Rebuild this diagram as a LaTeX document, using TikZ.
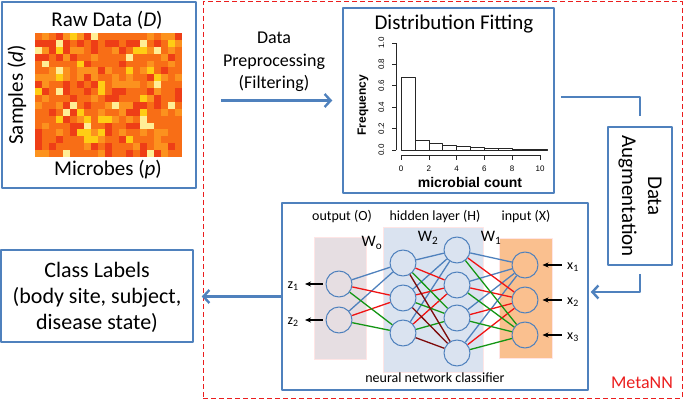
\documentclass[tikz,border=0pt]{standalone}
\usepackage{fontspec}
\setmainfont{Carlito}
\newfontfamily\histfont{Liberation Sans}
\usetikzlibrary{arrows.meta}
\definecolor{boxblue}{RGB}{79,129,189}
\definecolor{nnred}{RGB}{240,20,20}
\definecolor{nngreen}{RGB}{20,150,20}
\definecolor{nnmaroon}{RGB}{125,10,10}
\definecolor{outfill}{RGB}{230,222,226}
\definecolor{hidfill}{RGB}{218,227,240}
\definecolor{infill}{RGB}{250,192,143}
\definecolor{heatA}{RGB}{238,62,22}
\definecolor{heatB}{RGB}{248,110,22}
\definecolor{heatC}{RGB}{252,146,30}
\definecolor{heatD}{RGB}{255,205,20}
\definecolor{heatE}{RGB}{255,238,150}
\definecolor{metared}{RGB}{235,30,30}

\begin{document}
\begin{tikzpicture}[x=1pt, y=-1pt, line join=round]
    \tikzstyle{box_style} = [draw=boxblue, line width=1.5pt, inner sep=0pt]
    \tikzstyle{meta_style} = [draw=metared, line width=1pt, dash pattern=on 5pt off 3pt, inner sep=0pt]
    \tikzstyle{title_style} = [font=\fontsize{21}{26}\selectfont, align=center]
    \tikzstyle{cls_style} = [font=\fontsize{22}{26}\selectfont, align=center]
    \tikzstyle{prep_style} = [font=\fontsize{18}{22.5}\selectfont, align=center]
    \tikzstyle{nn_label} = [font=\fontsize{14}{16}\selectfont]
    \tikzstyle{w_label} = [font=\fontsize{16}{18}\selectfont]
    \tikzstyle{panel_style} = [inner sep=0pt, draw=white!90!red, line width=0.5pt]
    \tikzstyle{neuron_style} = [circle, draw=boxblue, line width=1pt, minimum size=26pt, inner sep=0pt]
    \tikzstyle{edge_style} = [line width=1.3pt]
    \tikzstyle{flow_style} = [draw=boxblue, line width=2.4pt, -{Straight Barb[length=6pt,width=13pt]}]
    \tikzstyle{link_style} = [draw=boxblue, line width=2.4pt]
    \tikzstyle{io_style} = [line width=1.2pt, -{Stealth[length=6pt,width=5pt]}]
    \tikzstyle{bar_style} = [draw=black!85, line width=0.6pt]
    \tikzstyle{tick_style} = [font=\histfont\fontsize{8}{9}\selectfont, inner sep=1pt]

    \useasboundingbox (0,0) rectangle (685,401);

    % main boxes
    \node[meta_style, minimum width=479pt, minimum height=396pt] (meta) at (442.5,200) {};
    \node[box_style, minimum width=194pt, minimum height=186pt] (raw) at (99,95) {};
    \node[box_style, minimum width=211pt, minimum height=185pt] (fit) at (448.5,100.5) {};
    \node[box_style, minimum width=64pt, minimum height=138pt] (aug) at (640,196) {};
    \node[box_style, minimum width=306pt, minimum height=187pt] (nn) at (435,296.5) {};
    \node[box_style, minimum width=192pt, minimum height=92pt] (cls) at (97,296) {};

    % raw data
    \node[title_style] (rawtitle) at (107,20) {Raw Data (\textit{D})};
    \node[title_style, rotate=90] (samples) at (17,95) {Samples (\textit{d})};
    \node[title_style] (microbes) at (108,170) {Microbes (\textit{p})};
    \pgfmathsetseed{11}
    \foreach \i in {0,...,20}{
      \foreach \j in {0,...,17}{
        \pgfmathrandominteger{\rv}{0}{13}
        \ifcase\rv \def\hc{heatA}\or\def\hc{heatA}\or\def\hc{heatA}\or\def\hc{heatB}\or
          \def\hc{heatB}\or\def\hc{heatB}\or\def\hc{heatB}\or\def\hc{heatB}\or\def\hc{heatB}\or
          \def\hc{heatC}\or\def\hc{heatC}\or\def\hc{heatC}\or\def\hc{heatD}\else\def\hc{heatE}\fi
        \fill[\hc] ({35+7*\i},{33+6.89*\j}) rectangle ++(7.2,7.1);
      }
    }

    \node[prep_style] (prep) at (274,62) {Data\\Preprocessing\\(Filtering)};

    % distribution fitting
    \node[title_style] (fittitle) at (454,24) {Distribution Fitting};
    \begin{scope}[shift={(401,150)}, x=13.9pt, y=107pt]
      \foreach \v/\f in {0/0.68, 1/0.093, 2/0.063, 3/0.042, 4/0.032, 5/0.023, 6/0.017, 7/0.012, 8/0.008, 9/0.005}
        \draw[bar_style] (\v,0) rectangle ({\v+1},\f);
      \draw[bar_style] (10,0) rectangle (10.5,0.003);
      \draw[bar_style] (-0.36,0) -- (-0.36,1);
      \foreach \t [count=\k] in {0.0,0.2,0.4,0.6,0.8,1.0}{
        \draw[bar_style] (-0.36,\t) -- ++(-4pt,0);
        \node[tick_style, rotate=90] (ytick\k) at (-1.42,\t) {\t};
      }
      \draw[bar_style] (0,-0.047) -- (10,-0.047);
      \foreach \t [count=\k] in {0,2,4,6,8,10}{
        \draw[bar_style] (\t,-0.047) -- ++(0,-5pt);
        \node[tick_style] (xtick\k) at (\t,-0.178) {\t};
      }
    \end{scope}
    \node[font=\histfont\bfseries\fontsize{12}{14}\selectfont, rotate=90] (freq) at (363,105) {Frequency};
    \node[font=\histfont\bfseries\fontsize{14}{16}\selectfont] (count) at (470,182) {microbial count};

    \node[title_style, rotate=-90] (augtext) at (640,196) {Data\\Augmentation};
    \node[cls_style] (clstext) at (97,297) {Class Labels\\(body site, subject,\\disease state)};
    \node[font=\fontsize{18}{20}\selectfont, text=metared] (metatext) at (642,383) {MetaNN};

    % neural network
    \node[panel_style, fill=outfill, minimum width=52pt, minimum height=122pt] (opanel) at (340,298) {};
    \node[panel_style, fill=hidfill, minimum width=100pt, minimum height=145pt] (hpanel) at (433,299.5) {};
    \node[panel_style, fill=infill, minimum width=53pt, minimum height=120pt] (ipanel) at (525.5,298) {};
    \node[nn_label] (olabel) at (342,217) {output (O)};
    \node[nn_label] (hlabel) at (435,217) {hidden layer (H)};
    \node[nn_label] (ilabel) at (526,217) {input (X)};
    \node[nn_label] (nnlabel) at (435,378) {neural network classifier};
    \node[w_label] (wo) at (372,243) {W\textsubscript{o}};
    \node[w_label] (w2) at (428,238) {W\textsubscript{2}};
    \node[w_label] (w1) at (491,238) {W\textsubscript{1}};

    \node[neuron_style] (o1) at (339,284) {};
    \node[neuron_style] (o2) at (339,320) {};
    \node[neuron_style] (a1) at (403,263) {};
    \node[neuron_style] (a2) at (403,298) {};
    \node[neuron_style] (a3) at (403,333) {};
    \node[neuron_style] (b1) at (457,250) {};
    \node[neuron_style] (b2) at (457,285) {};
    \node[neuron_style] (b3) at (457,318) {};
    \node[neuron_style] (b4) at (457,353) {};
    \node[neuron_style] (i1) at (525,265) {};
    \node[neuron_style] (i2) at (525,300) {};
    \node[neuron_style] (i3) at (525,335) {};

    \foreach \t/\c in {a1/boxblue, a2/nnred, a3/nngreen}
      \foreach \s in {o1,o2}
        \draw[edge_style, draw=\c] (\s) -- (\t);
    \foreach \t/\c in {b1/boxblue, b2/nnred, b3/nngreen, b4/nnmaroon}
      \foreach \s in {a1,a2,a3}
        \draw[edge_style, draw=\c] (\s) -- (\t);
    \foreach \t/\c in {i1/boxblue, i2/nnred, i3/nngreen}
      \foreach \s in {b1,b2,b3,b4}
        \draw[edge_style, draw=\c] (\s) -- (\t);

    \node[nn_label] (z1) at (293,286) {z\textsubscript{1}};
    \node[nn_label] (z2) at (293,322) {z\textsubscript{2}};
    \node[nn_label] (x1) at (573,267) {x\textsubscript{1}};
    \node[nn_label] (x2) at (573,302) {x\textsubscript{2}};
    \node[nn_label] (x3) at (573,337) {x\textsubscript{3}};
    \draw[io_style, shorten <=3pt, shorten >=3pt] (o1) -- (z1.east |- o1);
    \draw[io_style, shorten <=3pt, shorten >=3pt] (o2) -- (z2.east |- o2);
    \draw[io_style, shorten <=2pt, shorten >=4pt] (x1.west |- i1) -- (i1);
    \draw[io_style, shorten <=2pt, shorten >=4pt] (x2.west |- i2) -- (i2);
    \draw[io_style, shorten <=2pt, shorten >=4pt] (x3.west |- i3) -- (i3);

    % flow between stages
    \draw[flow_style] ([xshift=24pt]raw.east |- fit.west) -- ([xshift=-10pt]fit.west);
    \draw[link_style] ([xshift=6pt,yshift=3.5pt]fit.east) -| ([yshift=10pt]aug.north);
    \draw[flow_style] ([yshift=-8pt]aug.south) |- ([xshift=2pt,yshift=4.5pt]nn.east);
    \draw[flow_style] (nn.west) -- ([xshift=8pt]cls.east |- nn.west);
\end{tikzpicture}
\end{document}
